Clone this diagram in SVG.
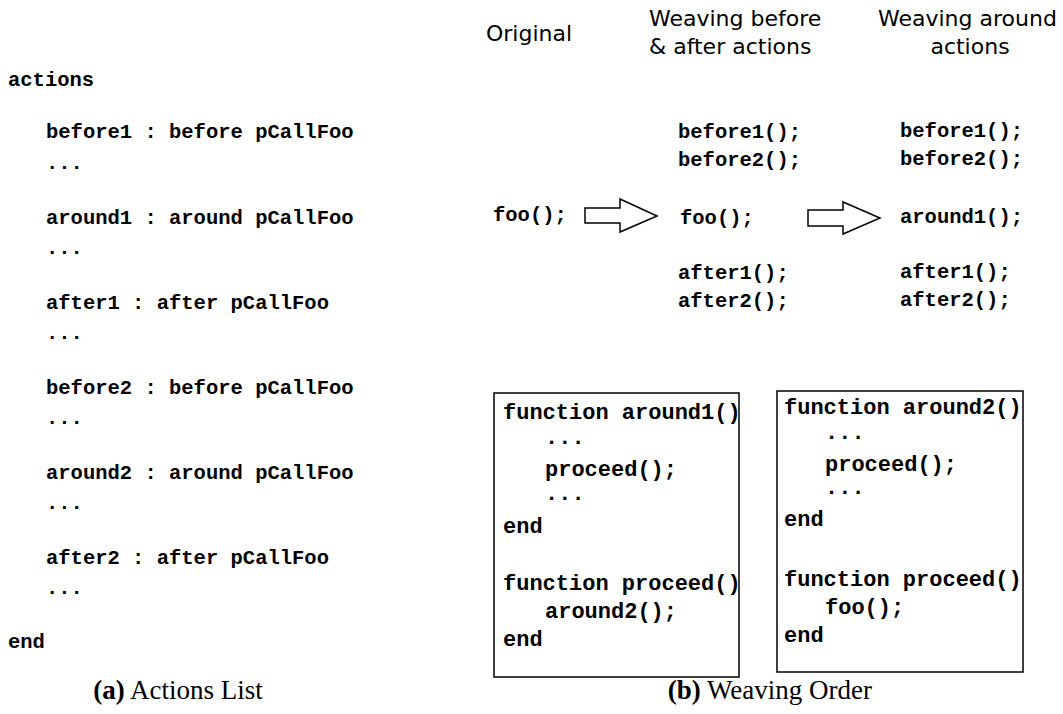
<svg xmlns="http://www.w3.org/2000/svg" width="1063" height="714" viewBox="0 0 1063 714">
  <style>
    .code { font-family: "Liberation Mono", "Courier New", monospace; font-weight: bold; font-size: 20.5px; fill: #000; }
    .box-code { font-family: "Liberation Mono", "Courier New", monospace; font-weight: bold; font-size: 22px; fill: #000; }
    .head { font-family: "DejaVu Sans", sans-serif; font-size: 22px; fill: #000; }
    .cap { font-family: "Liberation Serif", "Times New Roman", serif; font-size: 27px; fill: #000; }
    .box { fill: none; stroke: #000; stroke-width: 1.5; }
    .arrow { fill: #fff; stroke: #000; stroke-width: 1.5; stroke-linejoin: miter; }
  </style>
  <rect width="1063" height="714" fill="#fff"/>

  <!-- (a) actions list -->
  <g id="actions-list">
    <text class="code" x="8" y="86">actions</text>
    <text class="code" x="46" y="138">before1 : before pCallFoo</text>
    <text class="code" x="46" y="169">...</text>
    <text class="code" x="46" y="224">around1 : around pCallFoo</text>
    <text class="code" x="46" y="254">...</text>
    <text class="code" x="46" y="309">after1 : after pCallFoo</text>
    <text class="code" x="46" y="339">...</text>
    <text class="code" x="46" y="394">before2 : before pCallFoo</text>
    <text class="code" x="46" y="424">...</text>
    <text class="code" x="46" y="479">around2 : around pCallFoo</text>
    <text class="code" x="46" y="509">...</text>
    <text class="code" x="46" y="564">after2 : after pCallFoo</text>
    <text class="code" x="46" y="594">...</text>
    <text class="code" x="8" y="648">end</text>
  </g>

  <!-- column headings -->
  <g id="headings">
    <text class="head" x="486" y="41">Original</text>
    <text class="head" x="649" y="26">Weaving before</text>
    <text class="head" x="649" y="54">&amp; after actions</text>
    <text class="head" x="878" y="26">Weaving around</text>
    <text class="head" x="970" y="54" text-anchor="middle">actions</text>
  </g>

  <g id="original">
    <text class="code" x="493" y="221">foo();</text>
  </g>

  <g id="before-after">
    <text class="code" x="678" y="138">before1();</text>
    <text class="code" x="678" y="166">before2();</text>
    <text class="code" x="680" y="224">foo();</text>
    <text class="code" x="678" y="279">after1();</text>
    <text class="code" x="678" y="307">after2();</text>
  </g>

  <g id="around">
    <text class="code" x="900" y="137">before1();</text>
    <text class="code" x="900" y="165">before2();</text>
    <text class="code" x="900" y="223">around1();</text>
    <text class="code" x="900" y="278">after1();</text>
    <text class="code" x="900" y="306">after2();</text>
  </g>

  <!-- block arrows between stages -->
  <g id="connectors">
    <polygon class="arrow" points="585,208 620,208 620,199 657,216 620,232 620,223 585,223"/>
    <polygon class="arrow" points="808,210 843,210 843,202 880,218 843,234 843,226 808,226"/>
  </g>

  <!-- woven function bodies -->
  <g id="around1-box">
    <text class="box-code" x="503" y="419">function around1()</text>
    <text class="box-code" x="545" y="444">...</text>
    <text class="box-code" x="545" y="476">proceed();</text>
    <text class="box-code" x="545" y="500">...</text>
    <text class="box-code" x="503" y="533">end</text>
    <text class="box-code" x="503" y="590">function proceed()</text>
    <text class="box-code" x="545" y="618">around2();</text>
    <text class="box-code" x="503" y="646">end</text>
    <rect class="box" x="494" y="393" width="245" height="284"/>
  </g>

  <g id="around2-box">
    <text class="box-code" x="784" y="414">function around2()</text>
    <text class="box-code" x="825" y="439">...</text>
    <text class="box-code" x="825" y="471">proceed();</text>
    <text class="box-code" x="825" y="494">...</text>
    <text class="box-code" x="784" y="526">end</text>
    <text class="box-code" x="784" y="586">function proceed()</text>
    <text class="box-code" x="825" y="614">foo();</text>
    <text class="box-code" x="784" y="642">end</text>
    <rect class="box" x="777" y="391" width="246" height="281"/>
  </g>

  <!-- sub-figure captions -->
  <g id="captions">
    <text class="cap" x="178" y="699" text-anchor="middle"><tspan font-weight="bold">(a)</tspan> Actions List</text>
    <text class="cap" x="872" y="699" text-anchor="end"><tspan font-weight="bold">(b)</tspan> Weaving Order</text>
  </g>
</svg>
